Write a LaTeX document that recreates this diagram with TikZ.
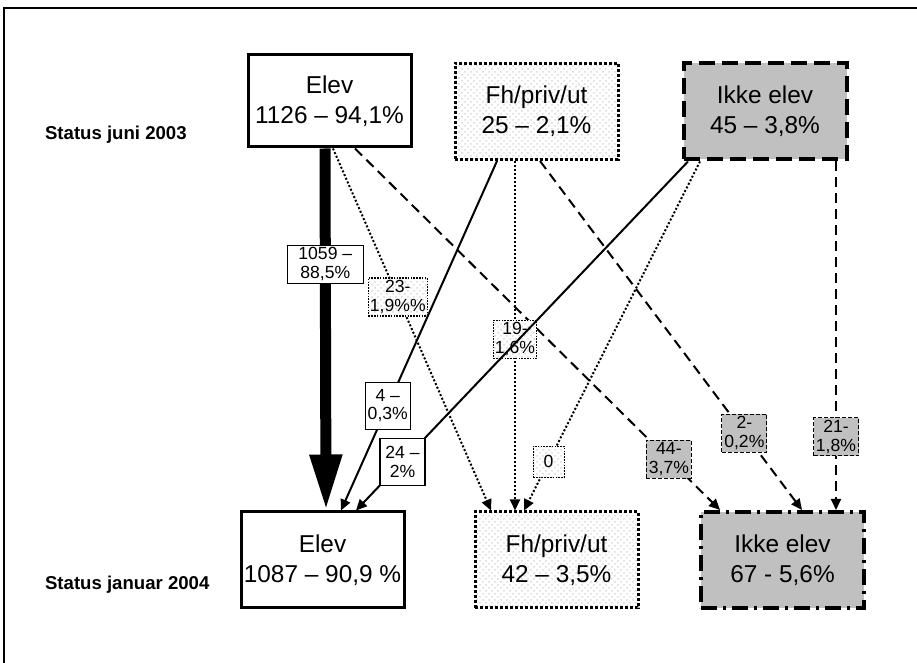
\documentclass[tikz,border=0pt]{standalone}
\usepackage{fontspec}
\setmainfont{Liberation Sans}
\usetikzlibrary{arrows.meta,calc,patterns}

\definecolor{boxgray}{HTML}{C0C0C0}

\tikzset{
  box/.style={draw, line width=1.5pt, minimum width=81.5pt, minimum height=48pt,
    align=center, inner sep=1pt, font=\fontsize{12.2}{15}\selectfont},
  elevbox/.style={box, fill=white},
  fhbox/.style={box, dash pattern=on 1.5pt off 1pt, preaction={fill=white},
    pattern=crosshatch dots, pattern color=gray!30},
  ikkebox/.style={box, fill=boxgray, line width=2pt, dash pattern=on 8pt off 3.5pt},
  ikkeboxb/.style={box, fill=boxgray, line width=2pt,
    dash pattern=on 8pt off 3pt on 1.5pt off 3pt},
  lab/.style={draw, line width=0.6pt, align=center, inner sep=0.8pt,
    minimum height=19pt, minimum width=22.5pt, font=\fontsize{8.8}{9.4}\selectfont},
  tall/.style={minimum height=23.5pt},
  elevlab/.style={lab, fill=white},
  fhlab/.style={lab, dash pattern=on 0.8pt off 0.6pt, preaction={fill=white},
    pattern=crosshatch dots, pattern color=gray!30},
  ikkelab/.style={lab, fill=boxgray, dash pattern=on 2pt off 1pt},
  flow/.style={line width=1pt, -{Triangle[length=5.5pt,width=5pt]}},
  toelev/.style={flow},
  tofh/.style={flow, densely dotted},
  toikke/.style={flow, dash pattern=on 5pt off 3pt},
  status/.style={anchor=west, font=\fontsize{9.3}{11}\selectfont\bfseries}
}

\begin{document}
\begin{tikzpicture}[x=0.5pt, y=-0.5pt]
  \useasboundingbox (0,0) rectangle (917,663);
  \draw[line width=1pt] (4,663) -- (4,8) -- (917,8);

  % status juni 2003
  \node[status] (sjun) at (38,135) {Status juni 2003};
  \node[elevbox, minimum height=46pt] (elevjun) at (329.5,101) {Elev\\1126 – 94,1\%};
  \node[fhbox] (fhjun) at (536.5,111.5) {Fh/priv/ut\\25 – 2,1\%};
  \node[ikkebox] (ikkejun) at (765,111.5) {Ikke elev\\45 – 3,8\%};

  % status januar 2004
  \node[status] (sjan) at (38,585) {Status januar 2004};
  \node[elevbox] (elevjan) at (322.5,560) {Elev\\1087 – 90,9 \%};
  \node[fhbox] (fhjan) at (556.5,560) {Fh/priv/ut\\42 – 3,5\%};
  \node[ikkeboxb] (ikkejan) at (782.5,560) {Ikke elev\\67 - 5,6\%};

  % fra elev
  \draw[line width=5.5pt, -{Triangle[length=28pt,width=15pt]}]
    ($(elevjun.south)+(-4.5,0)$) -- node[elevlab, pos=0.32, minimum width=38pt] (lee) {1059 –\\88,5\%}
    ($(elevjan.north)+(3.5,0)$);
  \draw[tofh] ($(elevjun.south)+(3.5,0)$) -- node[fhlab, pos=0.41] (lef) {23-\\1,9\%\%}
    ($(fhjan.north)+(-65.5,0)$);
  \draw[toikke] ($(elevjun.south)+(25.5,0)$) -- node[ikkelab, pos=0.86] (lei) {44-\\3,7\%}
    ($(ikkejan.north)+(-62.5,0)$);

  % fra fh/priv/ut
  \draw[toelev] ($(fhjun.south)+(-39.5,0)$) -- node[elevlab, tall, pos=0.70] (lfe) {4 –\\0,3\%}
    ($(elevjan.north)+(18.5,0)$);
  \draw[tofh] ($(fhjun.south)+(-21.5,0)$) -- node[fhlab, pos=0.51, minimum width=20pt] (lff) {19-\\1,6\%}
    ($(fhjan.north)+(-41.5,0)$);
  \draw[toikke] ($(fhjun.south)+(3.5,0)$) -- node[ikkelab, pos=0.78] (lfi) {2-\\0,2\%}
    ($(ikkejan.north)+(19.5,0)$);

  % fra ikke elev
  \draw[toelev] ($(ikkejun.south)+(-77,0)$) -- node[elevlab, tall, pos=0.86] (lie) {24 –\\2\%}
    ($(elevjan.north)+(33.5,0)$);
  \draw[tofh] ($(ikkejun.south)+(-65,0)$) -- node[fhlab, pos=0.86, minimum width=15.5pt, minimum height=15.5pt] (lif) {0}
    ($(fhjan.north)+(-32.5,0)$);
  \draw[toikke] ($(ikkejun.south)+(71,0)$) -- node[ikkelab, pos=0.79] (lii) {21-\\1,8\%}
    ($(ikkejan.north)+(53.5,0)$);
\end{tikzpicture}
\end{document}
